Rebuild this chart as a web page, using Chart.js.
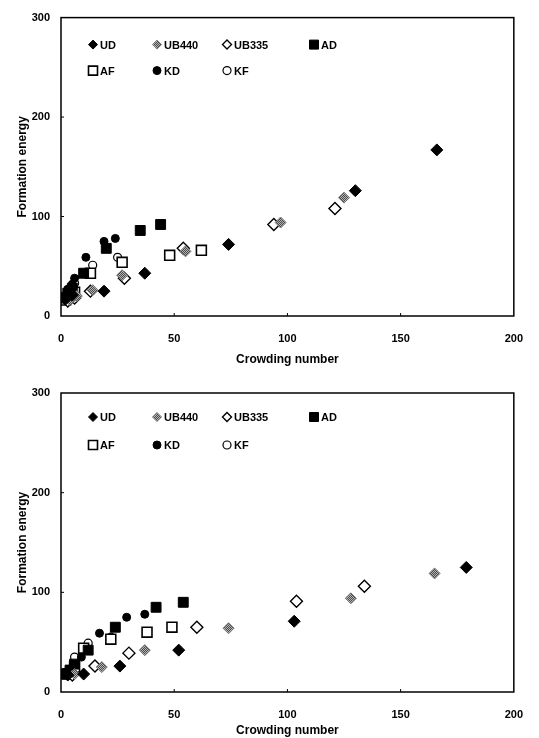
<!DOCTYPE html>
<html>
<head>
<meta charset="utf-8">
<script src="https://cdn.jsdelivr.net/npm/chart.js@4.4.0/dist/chart.umd.min.js"></script>
<style>
  body { margin: 0; background: #fff; }
  .box { position: relative; width: 539px; height: 369px; }
</style>
</head>
<body>
<div class="box"><canvas id="topChart"></canvas></div>
<div class="box"><canvas id="bottomChart"></canvas></div>
<script>
const seriesNames = ['UD', 'UB440', 'UB335', 'AD', 'AF', 'KD', 'KF'];
const xTicks = [0, 50, 100, 150, 200];
const yTicks = [0, 100, 200, 300];
const xTitle = 'Crowding number';
const yTitle = 'Formation energy';

// upper panel  [crowding number, formation energy]
const topUD    = [[166, 167], [130, 126], [74, 72], [37, 43], [19, 25], [2, 17], [5, 21]];
const topUB440 = [[125, 119], [97, 94], [55, 65], [27, 41], [14, 26], [4, 16], [7, 20]];
const topUB335 = [[121, 108], [94, 92], [54, 68], [28, 38], [13, 25], [3, 15], [6, 18]];
const topAD    = [[44, 92], [35, 86], [20, 68], [10, 43], [1, 18], [3, 23], [5, 28]];
const topAF    = [[62, 66], [48, 61], [27, 54], [13, 43], [2, 16], [6, 24]];
const topKD    = [[24, 78], [19, 75], [11, 59], [6, 38], [1, 20], [3, 27], [5, 32]];
const topKF    = [[25, 59], [14, 51], [6, 33], [2, 19], [5, 26]];

// lower panel
const botUD    = [[179, 125], [103, 71], [52, 42], [26, 26], [10, 18], [3, 17]];
const botUB440 = [[165, 119], [128, 94], [74, 64], [37, 42], [18, 25], [6, 18]];
const botUB335 = [[134, 106], [104, 91], [60, 65], [30, 39], [15, 26], [5, 17]];
const botAD    = [[54, 90], [42, 85], [24, 65], [12, 42], [4, 22], [6, 28], [1, 18]];
const botAF    = [[49, 65], [38, 60], [22, 53], [10, 44], [3, 18], [6, 25]];
const botKD    = [[37, 78], [29, 75], [17, 59], [9, 35], [4, 22], [2, 20]];
const botKF    = [[12, 49], [22, 55], [6, 35], [3, 20]];

function greyPattern() {
  const c = document.createElement('canvas');
  c.width = 2; c.height = 2;
  const g = c.getContext('2d');
  g.fillStyle = '#b4b4b4'; g.fillRect(0, 0, 2, 2);
  g.fillStyle = '#4a4a4a'; g.fillRect(0, 0, 1, 1); g.fillRect(1, 1, 1, 1);
  return g.createPattern(c, 'repeat');
}
const grey = greyPattern();

const styles = [
  { pointStyle: 'rectRot', radius: 6,   bg: '#000', border: '#000', bw: 1 },
  { pointStyle: 'rectRot', radius: 5.5, bg: grey,   border: '#777', bw: 1 },
  { pointStyle: 'rectRot', radius: 6,   bg: '#fff', border: '#000', bw: 1.4 },
  { pointStyle: 'rect',    radius: 7,   bg: '#000', border: '#000', bw: 1 },
  { pointStyle: 'rect',    radius: 7,   bg: '#fff', border: '#000', bw: 1.6 },
  { pointStyle: 'circle',  radius: 4,   bg: '#000', border: '#000', bw: 1 },
  { pointStyle: 'circle',  radius: 4,   bg: '#fff', border: '#000', bw: 1.2 }
];

function toPoints(arr) { return arr.map(p => ({ x: p[0], y: p[1] })); }

function buildDatasets(list) {
  return list.map((arr, i) => ({
    label: seriesNames[i],
    data: toPoints(arr),
    pointStyle: styles[i].pointStyle,
    pointRadius: styles[i].radius,
    pointHoverRadius: styles[i].radius,
    backgroundColor: styles[i].bg,
    borderColor: styles[i].border,
    borderWidth: styles[i].bw,
    showLine: false
  }));
}

// legend symbols + frame drawn inside the plot
const legendCols = [32, 96, 166, 253];
const framePlugin = {
  id: 'frame',
  afterDraw(chart, args, opts) {
    const ctx = chart.ctx;
    const a = chart.chartArea;
    ctx.save();
    ctx.strokeStyle = '#000';
    ctx.lineWidth = 1.5;
    ctx.strokeRect(a.left, a.top, a.right - a.left, a.bottom - a.top);
    // small inward tick marks
    ctx.lineWidth = 1;
    const xs = chart.scales.x, ys = chart.scales.y;
    xTicks.slice(1, -1).forEach(v => {
      const px = xs.getPixelForValue(v);
      ctx.beginPath(); ctx.moveTo(px, a.bottom); ctx.lineTo(px, a.bottom - 3); ctx.stroke();
    });
    yTicks.slice(1, -1).forEach(v => {
      const py = ys.getPixelForValue(v);
      ctx.beginPath(); ctx.moveTo(a.left, py); ctx.lineTo(a.left + 3, py); ctx.stroke();
    });

    // legend
    ctx.font = 'bold 11px "Liberation Sans", Arial, sans-serif';
    ctx.textBaseline = 'middle';
    chart.data.datasets.forEach((ds, i) => {
      const row = i < 4 ? 0 : 1;
      const col = i < 4 ? i : i - 4;
      const cx = a.left + legendCols[col];
      const cy = a.top + opts.rows[row];
      const st = styles[i];
      ctx.fillStyle = st.bg;
      ctx.strokeStyle = st.border;
      ctx.lineWidth = st.bw;
      ctx.beginPath();
      if (st.pointStyle === 'rectRot') {
        const r = 4.5;
        ctx.moveTo(cx - r, cy); ctx.lineTo(cx, cy - r); ctx.lineTo(cx + r, cy); ctx.lineTo(cx, cy + r); ctx.closePath();
      } else if (st.pointStyle === 'rect') {
        ctx.rect(cx - 4.5, cy - 4.5, 9, 9);
      } else {
        ctx.arc(cx, cy, 4, 0, Math.PI * 2);
      }
      ctx.fill(); ctx.stroke();
      ctx.fillStyle = '#000';
      ctx.fillText(ds.label, cx + 7, cy + 1);
    });
    ctx.restore();
  }
};

function makeChart(id, list, pad, xAxisHeight, titleBottom, rows) {
  return new Chart(document.getElementById(id), {
    type: 'scatter',
    data: { datasets: buildDatasets(list) },
    options: {
      responsive: true,
      maintainAspectRatio: false,
      animation: false,
      layout: { padding: pad },
      plugins: {
        legend: { display: false },
        tooltip: { enabled: false },
        frame: { rows: rows }
      },
      scales: {
        x: {
          type: 'linear', min: 0, max: 200,
          afterBuildTicks: s => { s.ticks = xTicks.map(v => ({ value: v })); },
          afterFit: s => { s.height = xAxisHeight; },
          grid: { display: false, drawTicks: false },
          border: { display: false },
          ticks: { padding: 16, color: '#000', font: { family: '"Liberation Sans", Arial, sans-serif', size: 11, weight: 'bold' } },
          title: { display: true, text: xTitle, color: '#000', padding: { top: 0, bottom: titleBottom },
                   font: { family: '"Liberation Sans", Arial, sans-serif', size: 12, weight: 'bold' } }
        },
        y: {
          type: 'linear', min: 0, max: 300,
          afterBuildTicks: s => { s.ticks = yTicks.map(v => ({ value: v })); },
          afterFit: s => { s.width = 61; },
          grid: { display: false, drawTicks: false },
          border: { display: false },
          ticks: { padding: 11, color: '#000', font: { family: '"Liberation Sans", Arial, sans-serif', size: 11, weight: 'bold' } },
          title: { display: true, text: yTitle, color: '#000', padding: { top: 15, bottom: 0 },
                   font: { family: '"Liberation Sans", Arial, sans-serif', size: 12, weight: 'bold' } }
        }
      }
    },
    plugins: [framePlugin]
  });
}

makeChart('topChart', [topUD, topUB440, topUB335, topAD, topAF, topKD, topKF],
  { left: 0, top: 13, right: 13, bottom: 0 }, 53, 2, [27, 53]);
makeChart('bottomChart', [botUD, botUB440, botUB335, botAD, botAF, botKD, botKF],
  { left: 0, top: 24, right: 11, bottom: 0 }, 46, 0, [24, 52]);
</script>
</body>
</html>
